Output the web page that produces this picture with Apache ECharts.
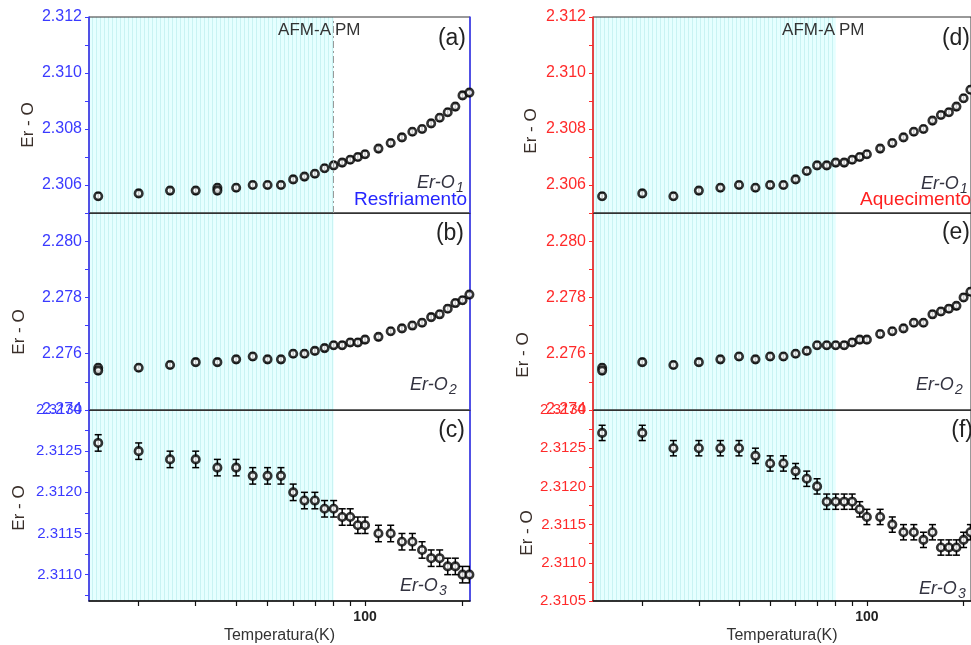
<!DOCTYPE html>
<html><head><meta charset="utf-8">
<script src="https://cdn.jsdelivr.net/npm/echarts@6/dist/echarts.min.js"></script>
<style>html,body{margin:0;padding:0;background:#fff}#c{width:971px;height:645px}</style>
</head><body><div id="c"></div>
<script>
// ---------------- data ----------------
const temps = [15,20,25,30,35,40,45,50,55,60,65,70,75,80,85,90,95,100,110,120,130,140,150,160,170,180,190,200,210];
// Cooling (Resfriamento)
const erO1Cool = [2.3056,2.3057,2.3058,2.3058,2.3059,2.3059,2.3060,2.3060,2.3060,2.3062,2.3063,2.3064,2.3066,2.3067,2.3068,2.3069,2.3070,2.3071,2.3073,2.3075,2.3077,2.3079,2.3080,2.3082,2.3084,2.3086,2.3088,2.3092,2.3093];
const erO2Cool = [2.2755,2.2755,2.2756,2.2757,2.2757,2.2758,2.2759,2.2758,2.2758,2.2760,2.2760,2.2761,2.2762,2.2763,2.2763,2.2764,2.2764,2.2765,2.2766,2.2768,2.2769,2.2770,2.2771,2.2773,2.2774,2.2776,2.2778,2.2779,2.2781];
const erO3Cool = [2.3126,2.3125,2.3124,2.3124,2.3123,2.3123,2.3122,2.3122,2.3122,2.3120,2.3119,2.3119,2.3118,2.3118,2.3117,2.3117,2.3116,2.3116,2.3115,2.3115,2.3114,2.3114,2.3113,2.3112,2.3112,2.3111,2.3111,2.3110,2.3110];
// Heating (Aquecimento)
const erO1Heat = [2.3056,2.3057,2.3056,2.3058,2.3059,2.3060,2.3059,2.3060,2.3060,2.3062,2.3065,2.3067,2.3067,2.3068,2.3068,2.3069,2.3070,2.3071,2.3073,2.3075,2.3077,2.3079,2.3080,2.3083,2.3085,2.3086,2.3088,2.3091,2.3094];
const erO2Heat = [2.2755,2.2757,2.2756,2.2757,2.2758,2.2759,2.2758,2.2759,2.2759,2.2760,2.2761,2.2763,2.2763,2.2763,2.2763,2.2764,2.2765,2.2765,2.2767,2.2768,2.2769,2.2771,2.2771,2.2774,2.2775,2.2776,2.2777,2.2780,2.2782];
const erO3Heat = [2.3127,2.3127,2.3125,2.3125,2.3125,2.3125,2.3124,2.3123,2.3123,2.3122,2.3121,2.3120,2.3118,2.3118,2.3118,2.3118,2.3117,2.3116,2.3116,2.3115,2.3114,2.3114,2.3113,2.3114,2.3112,2.3112,2.3112,2.3113,2.3114];
// repeated measurements drawn on top of each other
const extraO1Cool = [[35, 2.3058]];
const extraO2Cool = [[15, 2.2754]];
const extraO2Heat = [[15, 2.2754]];
// error bars
const errSmall = 0.00012;
const errO3 = 0.0001;
// axes
const xMin = 14.05, xMax = 210.9;
const transitionT = 80;
const xTicks = [20,30,40,50,60,70,80,90,100,200];
const xLabels = [100];
const yRangeO1 = [2.305, 2.312];
const yTicksO1 = [2.305,2.306,2.307,2.308,2.309,2.310,2.311,2.312];
const yLabelsO1 = [2.306,2.308,2.310,2.312];
const yRangeO2 = [2.274, 2.281];
const yTicksO2 = [2.274,2.275,2.276,2.277,2.278,2.279,2.280,2.281];
const yLabelsO2 = [2.274,2.276,2.278,2.280];
const yRangeO3Cool = [2.31068, 2.3130];
const yTicksO3Cool = [2.31075,2.3110,2.31125,2.3115,2.31175,2.3120,2.31225,2.3125,2.31275,2.3130];
const yLabelsO3Cool = [2.3110,2.3115,2.3120,2.3125,2.3130];
const yRangeO3Heat = [2.3105, 2.3130];
const yTicksO3Heat = [2.3105,2.31075,2.3110,2.31125,2.3115,2.31175,2.3120,2.31225,2.3125,2.31275,2.3130];
const yLabelsO3Heat = [2.3105,2.3110,2.3115,2.3120,2.3125,2.3130];

// ---------------- layout ----------------
const FONT = '"Liberation Sans", Arial, sans-serif';
const BLUE = '#3a3aff', RED = '#ff2a2a';
const pc = document.createElement('canvas'); pc.width = 4; pc.height = 8;
const g = pc.getContext('2d');
g.fillStyle = '#e6ffff'; g.fillRect(0,0,4,8);
g.fillStyle = '#c9f3f3'; g.fillRect(0,0,1,8);

const panels = [
  {left:89, top:17, h:196, range:yRangeO1, ticks:yTicksO1, labels:yLabelsO1, dec:3, fs:16, vals:erO1Cool, extra:extraO1Cool, err:errSmall, cap:2.5, col:BLUE, bottom:false, dash:true},
  {left:89, top:213, h:197, range:yRangeO2, ticks:yTicksO2, labels:yLabelsO2, dec:3, fs:16, vals:erO2Cool, extra:extraO2Cool, err:errSmall, cap:2.5, col:BLUE, bottom:false},
  {left:89, top:410, h:197, range:yRangeO3Cool, ticks:yTicksO3Cool, labels:yLabelsO3Cool, dec:4, fs:15, vals:erO3Cool, extra:[], err:errO3, cap:3.5, col:BLUE, bottom:true},
  {left:593, top:17, h:196, range:yRangeO1, ticks:yTicksO1, labels:yLabelsO1, dec:3, fs:16, vals:erO1Heat, extra:[], err:errSmall, cap:2.5, col:RED, bottom:false},
  {left:593, top:213, h:197, range:yRangeO2, ticks:yTicksO2, labels:yLabelsO2, dec:3, fs:16, vals:erO2Heat, extra:extraO2Heat, err:errSmall, cap:2.5, col:RED, bottom:false},
  {left:593, top:410, h:197, range:yRangeO3Heat, ticks:yTicksO3Heat, labels:yLabelsO3Heat, dec:4, fs:15, vals:erO3Heat, extra:[], err:errO3, cap:3.5, col:RED, bottom:true}
];
const W = 381;

const grid = [], xAxis = [], yAxis = [], series = [];
panels.forEach((p, i) => {
  grid.push({left:p.left, top:p.top, width:W, height:p.h, show:true, borderColor:'#333', borderWidth:1, backgroundColor:'transparent'});
  xAxis.push({
    type:'log', gridIndex:i, min:xMin, max:xMax, logBase:10,
    splitLine:{show:false},
    axisLine:{show:true, lineStyle:{color: p.bottom ? '#111' : '#333', width: p.bottom ? 1.5 : 1}},
    axisTick:{show:p.bottom, customValues:xTicks, length:5, inside:false, lineStyle:{color:'#111', width:1.2}},
    axisLabel:{show:p.bottom, customValues:xLabels, fontFamily:FONT, fontSize:14, fontWeight:'bold', color:'#222', margin:9, formatter:v=>String(Math.round(v))},
    name: p.bottom ? 'Temperatura(K)' : '', nameLocation:'middle', nameGap:27,
    nameTextStyle:{fontFamily:FONT, fontSize:16, color:'#333'}
  });
  yAxis.push({
    type:'value', gridIndex:i, min:p.range[0], max:p.range[1], position:'left',
    splitLine:{show:false},
    axisLine:{show:true, lineStyle:{color:p.col, width:1.5}},
    axisTick:{show:true, customValues:p.ticks, length:4, lineStyle:{color:p.col, width:1}},
    axisLabel:{show:true, customValues:p.labels, fontFamily:FONT, fontSize:p.fs, color:p.col, margin:7, formatter:v=>v.toFixed(p.dec)}
  });
});
// blue right border for the left column
[0,1,2].forEach(i => {
  yAxis.push({type:'value', gridIndex:i, min:panels[i].range[0], max:panels[i].range[1], position:'right',
    splitLine:{show:false}, axisTick:{show:false}, axisLabel:{show:false},
    axisLine:{show:true, lineStyle:{color:BLUE, width:1.5}}});
});

function errRender(err, cw){
  return function(params, api){
    const x = api.value(0), y = api.value(1);
    const p = api.coord([x, y]);
    const hi = api.coord([x, y + err]);
    const lo = api.coord([x, y - err]);
    const st = {stroke:'#000', lineWidth:1.5};
    return {type:'group', children:[
      {type:'line', shape:{x1:p[0], y1:hi[1], x2:p[0], y2:lo[1]}, style:st},
      {type:'line', shape:{x1:p[0]-cw, y1:hi[1], x2:p[0]+cw, y2:hi[1]}, style:st},
      {type:'line', shape:{x1:p[0]-cw, y1:lo[1], x2:p[0]+cw, y2:lo[1]}, style:st}
    ]};
  };
}

panels.forEach((p, i) => {
  const pts = temps.map((t, k) => [t, p.vals[k]]).concat(p.extra);
  // shaded AFM-A region
  series.push({
    type:'custom', xAxisIndex:i, yAxisIndex:i, z:-1, silent:true, clip:true,
    data:[[transitionT, p.range[0]]],
    renderItem:function(params, api){
      const cs = params.coordSys;
      const xe = api.coord([api.value(0), api.value(1)])[0];
      return {type:'rect', shape:{x:cs.x, y:cs.y, width:xe - cs.x, height:cs.height},
        style:{fill:{image:pc, repeat:'repeat'}}};
    }
  });
  series.push({type:'custom', xAxisIndex:i, yAxisIndex:i, z:3, silent:true, clip:true,
    data:pts, renderItem:errRender(p.err, p.cap)});
  const sc = {type:'scatter', xAxisIndex:i, yAxisIndex:i, z:4, silent:true, clip:true,
    data:pts, symbol:'circle', symbolSize:7.5,
    itemStyle:{color:'#fff', borderColor:'#000', borderWidth:2.6}};
  if (p.dash) {
    sc.markLine = {silent:true, symbol:'none', label:{show:false},
      lineStyle:{color:'#9a9a9a', type:[7,3,2,3], width:1},
      data:[{xAxis:transitionT}]};
  }
  series.push(sc);
});

// ---------------- texts ----------------
const txt = (x, y, text, o) => Object.assign({type:'text', x:x, y:y, silent:true,
  style:Object.assign({text:text, fontFamily:FONT, fill:'#333', align:'left', verticalAlign:'middle'}, o || {})});
const graphic = [];
const yTitles = [[28,125],[19,332],[19,508],[531,131],[523,355],[527,533]];
yTitles.forEach(([x,y]) => {
  graphic.push({type:'text', x:x, y:y, rotation:Math.PI/2, silent:true,
    style:{text:'Er - O', fontFamily:FONT, fontSize:17, fill:'#3a2f2a', align:'center', verticalAlign:'middle'}});
});
[[331,'(a)',466,39],[835,'(d)',970,39]].forEach(([ax, lab, lx, ly]) => {
  graphic.push(txt(ax, 30, 'AFM-A', {fontSize:17, align:'right'}));
  graphic.push(txt(ax+4, 30, 'PM', {fontSize:17}));
  graphic.push(txt(lx, ly, lab, {fontSize:23, align:'right', fill:'#222'}));
});
graphic.push(txt(464, 234, '(b)', {fontSize:23, align:'right', fill:'#222'}));
graphic.push(txt(465, 431, '(c)', {fontSize:23, align:'right', fill:'#222'}));
graphic.push(txt(970, 233, '(e)', {fontSize:23, align:'right', fill:'#222'}));
graphic.push(txt(973, 431, '(f)', {fontSize:23, align:'right', fill:'#222'}));
const erLabels = [[417,183,'1'],[410,385,'2'],[400,586,'3'],[921,184,'1'],[916,385,'2'],[919,589,'3']];
erLabels.forEach(([x,y,s]) => {
  graphic.push(txt(x, y, 'Er-O', {fontSize:18, fontStyle:'italic', fill:'#333340'}));
  graphic.push(txt(x+39, y+5, s, {fontSize:14, fontStyle:'italic', fill:'#333340'}));
});
graphic.push(txt(467, 200, 'Resfriamento', {fontSize:19, align:'right', fill:'#2525ff'}));
graphic.push(txt(971, 200, 'Aquecimento', {fontSize:19, align:'right', fill:'#ff2020'}));

const chart = echarts.init(document.getElementById('c'), null, {renderer:'canvas'});
chart.setOption({animation:false, backgroundColor:'#fff', grid, xAxis, yAxis, series, graphic});
</script>
</body></html>
